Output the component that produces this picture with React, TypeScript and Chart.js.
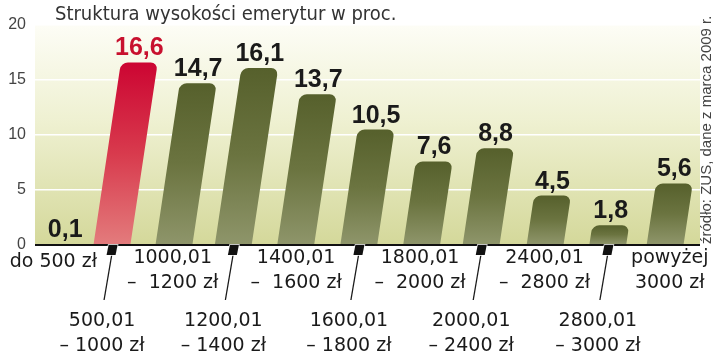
import React, { useEffect, useRef } from "react";
import { Chart, registerables } from "chart.js";

Chart.register(...registerables);

const title = "Struktura wysokości emerytur w proc.";
const sourceNote = "źródło: ZUS, dane z marca 2009 r.";

const categoryLines: string[][] = [
  ["do 500 zł"],
  ["500,01", "– 1000 zł"],
  ["1000,01", "–  1200 zł"],
  ["1200,01", "– 1400 zł"],
  ["1400,01", "–  1600 zł"],
  ["1600,01", "– 1800 zł"],
  ["1800,01", "–  2000 zł"],
  ["2000,01", "– 2400 zł"],
  ["2400,01", "–  2800 zł"],
  ["2800,01", "– 3000 zł"],
  ["powyżej", "3000 zł"],
];

const values: number[] = [0.1, 16.6, 14.7, 16.1, 13.7, 10.5, 7.6, 8.8, 4.5, 1.8, 5.6];
const valueLabels: string[] = ["0,1", "16,6", "14,7", "16,1", "13,7", "10,5", "7,6", "8,8", "4,5", "1,8", "5,6"];
const highlightIndex = 1;
const yTicks: number[] = [0, 5, 10, 15, 20];

const SKEW = 0.15;
const LABEL_FONT = '19px "DejaVu Sans", sans-serif';

function geom(el: any) {
  const p = el.getProps(["x", "y", "base", "width"], true);
  const h = p.base - p.y;
  const s = h * SKEW;
  return { x: p.x, y: p.y, base: p.base, w: p.width, h, s };
}

const customPlugin = {
  id: "customDraw",
  beforeDraw(chart: any) {
    const { ctx, chartArea: a } = chart;
    const g = ctx.createLinearGradient(0, a.top, 0, a.bottom);
    g.addColorStop(0, "#fdfdf6");
    g.addColorStop(0.45, "#eef0d0");
    g.addColorStop(1, "#d4d89a");
    ctx.save();
    ctx.fillStyle = g;
    ctx.fillRect(a.left, a.top, a.right - a.left, a.bottom - a.top);
    ctx.restore();
  },
  beforeDatasetsDraw(chart: any) {
    const { ctx } = chart;
    const meta = chart.getDatasetMeta(0);
    meta.data.forEach((el: any, i: number) => {
      const { x, base, w, h, s } = geom(el);
      if (h <= 0) return;
      ctx.save();
      ctx.translate(x - s / 2, base);
      ctx.transform(1, 0, -SKEW, 1, 0, 0);
      const g = ctx.createLinearGradient(0, -h, 0, 0);
      if (i === highlightIndex) {
        g.addColorStop(0, "#cc0532");
        g.addColorStop(0.5, "#d83a4d");
        g.addColorStop(1, "#e37b7c");
      } else {
        g.addColorStop(0, "#56602c");
        g.addColorStop(0.5, "#6b7440");
        g.addColorStop(1, "#8e956a");
      }
      ctx.fillStyle = g;
      const r = Math.min(7, h, w / 2);
      ctx.beginPath();
      ctx.roundRect(-w / 2, -h, w, h, [r, r, 0, 0]);
      ctx.fill();
      ctx.restore();
    });
    return false;
  },
  afterDraw(chart: any) {
    const { ctx, chartArea: a } = chart;
    const meta = chart.getDatasetMeta(0);
    const gs = meta.data.map((el: any) => geom(el));

    ctx.save();
    // value labels
    ctx.font = 'bold 25px "Liberation Sans", Arial, sans-serif';
    ctx.textAlign = "center";
    ctx.textBaseline = "alphabetic";
    gs.forEach((g: any, i: number) => {
      ctx.fillStyle = i === highlightIndex ? "#c8102e" : "#1a1a1a";
      ctx.fillText(valueLabels[i], g.x + g.s / 2, g.y - 7);
    });

    // markers and leaders for odd categories
    const markerX: number[] = [];
    gs.forEach((g: any, i: number) => {
      markerX[i] = g.x - g.s / 2;
    });
    const axisY = a.bottom;
    ctx.textBaseline = "middle";
    ctx.font = LABEL_FONT;
    ctx.fillStyle = "#1a1a1a";
    for (let i = 1; i < gs.length; i += 2) {
      const xm = markerX[i];
      ctx.strokeStyle = "#1a1a1a";
      ctx.lineWidth = 1.3;
      ctx.beginPath();
      ctx.moveTo(xm, axisY + 8);
      ctx.lineTo(xm - 8, axisY + 55);
      ctx.stroke();
      ctx.save();
      ctx.translate(xm, axisY + 5);
      ctx.transform(1, 0, -0.2, 1, 0, 0);
      ctx.fillStyle = "#111";
      ctx.strokeStyle = "#ffffff";
      ctx.lineWidth = 1.5;
      ctx.beginPath();
      ctx.rect(-4.5, -5, 9, 10);
      ctx.stroke();
      ctx.fill();
      ctx.restore();
      const lines = categoryLines[i];
      ctx.fillStyle = "#1a1a1a";
      lines.forEach((ln, k) => {
        ctx.fillText(ln, xm - 10, axisY + 76 + k * 25);
      });
    }
    for (let i = 0; i < gs.length; i += 2) {
      const lines = categoryLines[i];
      let cx: number;
      if (i === 0) {
        ctx.textAlign = "right";
        cx = markerX[1] - 15;
      } else {
        ctx.textAlign = "center";
        cx = i + 1 < gs.length ? (markerX[i - 1] + markerX[i + 1]) / 2 : gs[i].x;
      }
      lines.forEach((ln, k) => {
        const y = lines.length === 1 ? axisY + 17 : axisY + 13 + k * 25;
        ctx.fillText(ln, cx, y);
      });
    }

    // title
    ctx.textAlign = "left";
    ctx.textBaseline = "alphabetic";
    ctx.fillStyle = "#333333";
    ctx.font = '20px "Liberation Sans Narrow", "DejaVu Sans Condensed", "Liberation Sans", sans-serif';
    ctx.fillText(title, 55, 20);

    // vertical source note
    ctx.save();
    ctx.translate(711, 244);
    ctx.rotate(-Math.PI / 2);
    ctx.font = '15px "Liberation Sans", Arial, sans-serif';
    ctx.fillStyle = "#444444";
    ctx.textAlign = "left";
    ctx.fillText(sourceNote, 0, 0);
    ctx.restore();
    ctx.restore();
  },
};

export default function App() {
  const ref = useRef<HTMLCanvasElement | null>(null);
  useEffect(() => {
    if (!ref.current) return;
    const chart = new Chart(ref.current, {
      type: "bar",
      data: {
        labels: categoryLines.map((l) => l.join(" ")),
        datasets: [
          {
            data: values,
            backgroundColor: "rgba(0,0,0,0)",
            barPercentage: 0.61,
            categoryPercentage: 1,
          },
        ],
      },
      options: {
        responsive: false,
        animation: false,
        events: [],
        layout: { padding: { left: 0, right: 20, top: 25, bottom: 112 } },
        plugins: {
          legend: { display: false },
          title: { display: false },
          tooltip: { enabled: false },
        },
        scales: {
          x: { display: false },
          y: {
            z: 1,
            min: 0,
            max: 20,
            afterBuildTicks: (scale: any) => {
              scale.ticks = yTicks.map((v) => ({ value: v }));
            },
            afterFit: (scale: any) => {
              scale.width = 35;
            },
            ticks: {
              padding: 9,
              color: "#444444",
              font: { family: '"Liberation Sans", Arial, sans-serif', size: 16 },
            },
            grid: {
              drawTicks: false,
              color: (c: any) => (c.tick && c.tick.value === 0 ? "#111111" : "#ffffff"),
              lineWidth: (c: any) => (c.tick && c.tick.value === 0 ? 2 : 1.5),
            },
            border: { display: false },
          },
        },
      },
      plugins: [customPlugin],
    });
    return () => chart.destroy();
  }, []);
  return (
    <div style={{ position: "fixed", left: 0, top: 0, width: 720, height: 357, background: "#ffffff" }}>
      <canvas ref={ref} width={720} height={357} style={{ width: 720, height: 357, display: "block" }} />
    </div>
  );
}
